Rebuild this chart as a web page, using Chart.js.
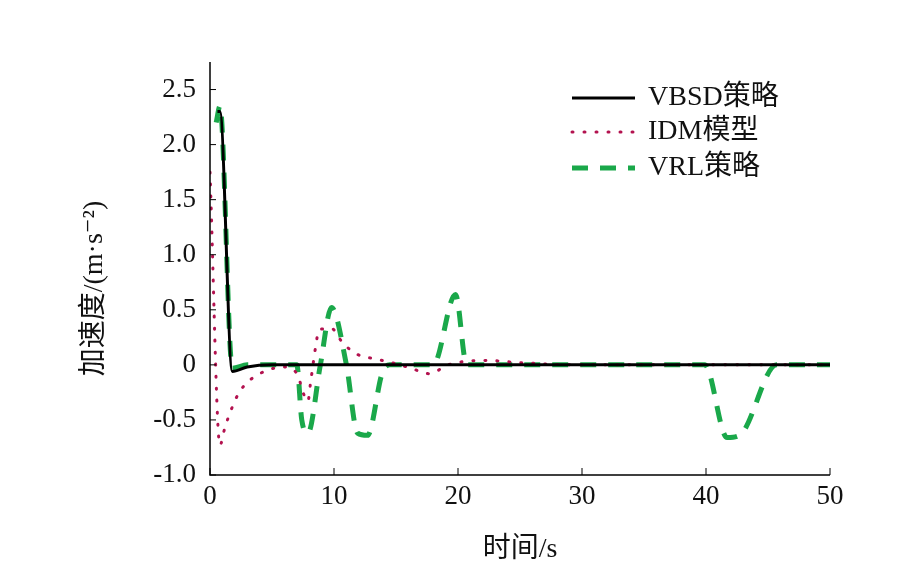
<!DOCTYPE html><html><head><meta charset="utf-8">
<script src="https://cdn.jsdelivr.net/npm/chart.js@4"></script>
<style>html,body{margin:0;background:#fff}#c{display:block}</style></head><body>
<div style="width:902px;height:581px"><canvas id="c"></canvas></div>
<script>
const xTicks=[0,10,20,30,40,50];
const yTicks=[-1.0,-0.5,0,0.5,1.0,1.5,2.0,2.5];
const vbsdT=[0.6,0.8,1.8,3,5,50];
const vbsdV=[2.3,2.3,-0.06,-0.02,0,0];
const idmT=[0,0.8,1.2,1.7,2.3,3.1,4.6,6,7.1,7.5,7.9,8.1,8.5,8.8,9.8,10.7,11.8,13.5,15,16.2,17.7,19.2,20.5,22.3,25,30,50];
const idmV=[1.75,-0.73,-0.57,-0.41,-0.26,-0.15,-0.05,-0.02,-0.1,-0.25,-0.33,-0.17,0.15,0.32,0.33,0.2,0.1,0.05,0.01,-0.03,-0.08,0,0.03,0.04,0.02,0,0];
const vrlT=[0.5,0.8,1.8,3,7,7.4,7.9,8.9,9.8,11.0,11.9,12.7,13.9,14.5,18,19.8,20.7,39.9,41.7,42.7,45.7,50];
const vrlV=[2.2,2.35,-0.03,0,0,-0.5,-0.62,0,0.52,0,-0.62,-0.64,-0.07,0,0,0.64,0,0,-0.66,-0.64,0,0];
const yLabels=['-1.0','-0.5','0','0.5','1.0','1.5','2.0','2.5'];
const names=['VBSD策略','IDM模型','VRL策略'];
const pts=(t,v)=>t.map((x,i)=>({x,y:v[i]}));
const SERIF='"Liberation Serif","DejaVu Serif","Noto Sans CJK SC",serif';
const deco={id:'deco',afterDraw(ch){
 const c=ch.ctx,a=ch.chartArea,xs=ch.scales.x,ys=ch.scales.y;
 c.save();c.strokeStyle='#000';c.lineWidth=1.5;
 c.beginPath();c.moveTo(a.left,a.top);c.lineTo(a.left,a.bottom);c.lineTo(a.right,a.bottom);c.stroke();
 c.lineWidth=1;
 yTicks.forEach(v=>{const y=ys.getPixelForValue(v);c.beginPath();c.moveTo(a.left,y);c.lineTo(a.left+6,y);c.stroke();});
 xTicks.forEach(v=>{const x=xs.getPixelForValue(v);c.beginPath();c.moveTo(x,a.bottom);c.lineTo(x,a.bottom-7);c.stroke();});
 c.fillStyle='#111';c.font='27px '+SERIF;c.textBaseline='middle';
 c.textAlign='right';yTicks.forEach((v,i)=>c.fillText(yLabels[i],a.left-14,ys.getPixelForValue(v)));
 c.textAlign='center';c.textBaseline='top';xTicks.forEach(v=>c.fillText(String(v),xs.getPixelForValue(v),a.bottom+8));
 c.font='28px '+SERIF;c.fillText('时间/s',520,536);
 c.save();c.translate(95,(a.top+a.bottom)/2+20);c.rotate(-Math.PI/2);c.textBaseline='middle';c.fillText('加速度/(m·s⁻²)',0,0);c.restore();
 const rows=[98,132,168];
 ch.data.datasets.forEach((d,i)=>{
  c.save();c.strokeStyle=d.borderColor;c.lineWidth=d.borderWidth;c.setLineDash(d.borderDash||[]);c.lineCap=d.borderCapStyle||'butt';
  c.beginPath();c.moveTo(572,rows[i]);c.lineTo(635,rows[i]);c.stroke();c.restore();
  c.fillStyle='#111';c.font='28px '+SERIF;c.textAlign='left';c.textBaseline='middle';c.fillText(names[i],648,rows[i]);
 });
 c.restore();}};
new Chart(document.getElementById('c'),{type:'line',
 data:{datasets:[
  {data:pts(vbsdT,vbsdV),borderColor:'#000',borderWidth:3,pointRadius:0,cubicInterpolationMode:'monotone'},
  {data:pts(idmT,idmV),borderColor:'#b3124f',borderWidth:3,borderDash:[1,11],borderCapStyle:'round',pointRadius:0,cubicInterpolationMode:'monotone'},
  {data:pts(vrlT,vrlV),borderColor:'#1aa84a',borderWidth:5,borderDash:[16,12],pointRadius:0,cubicInterpolationMode:'monotone'}]},
 options:{responsive:true,maintainAspectRatio:false,animation:false,
  layout:{padding:{top:62,right:72,left:0,bottom:0}},
  plugins:{legend:{display:false},tooltip:{enabled:false}},
  scales:{
   x:{type:'linear',min:0,max:50,ticks:{display:false},grid:{display:false},border:{display:false},afterFit:s=>{s.height=106;}},
   y:{min:-1,max:2.75,ticks:{display:false},grid:{display:false},border:{display:false},afterFit:s=>{s.width=210;}}}},
 plugins:[deco]});
</script></body></html>
